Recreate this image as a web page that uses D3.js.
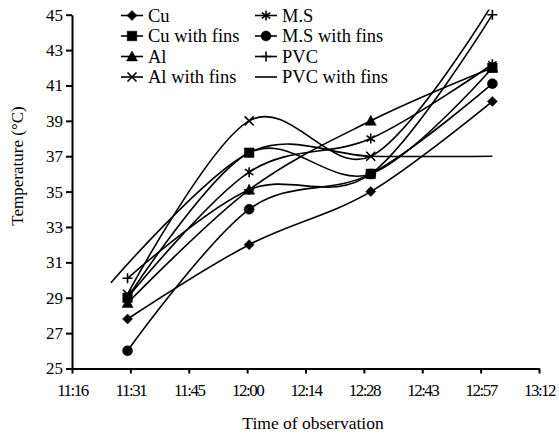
<!DOCTYPE html>
<html><head><meta charset="utf-8">
<script src="https://cdn.jsdelivr.net/npm/d3@7"></script>
<style>
body{margin:0;background:#fff}
text{font-family:"Liberation Serif","Times New Roman",serif;fill:#000}
</style>
</head><body>
<svg id="c" width="559" height="442"></svg>
<script>
// ---- data (time in minutes after midnight, temperature in °C) ----
const times = [690.5, 720.5, 750.5, 780.5];
const pvcFinsTimes = [686.4, 720.5, 750.5, 780.5];
const cu        = [27.8, 32.0, 35.0, 40.1];
const cuFins    = [29.0, 37.2, 36.0, 42.0];
const al        = [28.7, 35.1, 39.0, 42.0];
const alFins    = [29.2, 39.0, 37.0, 45.6];
const ms        = [29.0, 36.1, 38.0, 42.2];
const msFins    = [26.0, 34.0, 36.0, 41.1];
const pvc       = [30.1, 35.1, 36.0, 45.0];
const pvcFins   = [29.85, 37.2, 37.0, 37.0];
const seriesNames = ["Cu","Cu with fins","Al","Al with fins","M.S","M.S with fins","PVC","PVC with fins"];
const xTickDays = [0.47,0.48,0.49,0.50,0.51,0.52,0.53,0.54,0.55];
const xTickLabels = ["11:16","11:31","11:45","12:00","12:14","12:28","12:43","12:57","13:12"];
const yTicks = [25,27,29,31,33,35,37,39,41,43,45];

const series = [
  {name:seriesNames[0], t:times, v:cu, m:"diamond"},
  {name:seriesNames[1], t:times, v:cuFins, m:"square"},
  {name:seriesNames[2], t:times, v:al, m:"triangle"},
  {name:seriesNames[3], t:times, v:alFins, m:"x"},
  {name:seriesNames[4], t:times, v:ms, m:"star"},
  {name:seriesNames[5], t:times, v:msFins, m:"circle"},
  {name:seriesNames[6], t:times, v:pvc, m:"plus"},
  {name:seriesNames[7], t:pvcFinsTimes, v:pvcFins, m:"none"}
];

const svg = d3.select("#c");
const L = 72, R = 539, T = 14.7, B = 368.5;
const x = d3.scaleLinear().domain([0.47*1440, 0.55*1440]).range([L, R]);
const y = d3.scaleLinear().domain([25, 45]).range([B, T]);

// clip
svg.append("defs").append("clipPath").attr("id","plot")
  .append("rect").attr("x", L).attr("y", 9.5).attr("width", R - L + 10).attr("height", B - 9.5);

// axes
const xAxis = d3.axisBottom(x).tickValues(xTickDays.map(d => d*1440))
  .tickFormat((d,i) => xTickLabels[i]).tickSize(5).tickSizeOuter(0);
const gx = svg.append("g").attr("transform", `translate(0,${B})`).call(xAxis);
gx.select(".domain").attr("stroke","#000").attr("stroke-width",2);
gx.selectAll(".tick line").attr("stroke","#000").attr("stroke-width",2);
gx.selectAll(".tick text").attr("font-size", 17).attr("dy", "1.15em")
  .attr("letter-spacing","-1.5px").attr("font-family","Liberation Serif");

const yAxis = d3.axisLeft(y).tickValues(yTicks).tickSize(6).tickSizeOuter(0);
const gy = svg.append("g").attr("transform", `translate(${L},0)`).call(yAxis);
gy.select(".domain").attr("stroke","#000").attr("stroke-width",2);
gy.selectAll(".tick line").attr("stroke","#000").attr("stroke-width",2);
gy.selectAll(".tick text").attr("font-size", 17).attr("x", -9)
  .attr("font-family","Liberation Serif");

// axis titles
svg.append("text").attr("x", 313).attr("y", 429).attr("text-anchor","middle")
  .attr("font-size", 17.5).text("Time of observation");
svg.append("text").attr("transform","translate(23,166) rotate(-90)")
  .attr("text-anchor","middle").attr("font-size", 17).text("Temperature (°C)");

// markers
function markerPath(type) {
  const p = d3.path();
  if (type === "diamond") { const r=5; p.moveTo(0,-r); p.lineTo(r,0); p.lineTo(0,r); p.lineTo(-r,0); p.closePath(); }
  else if (type === "square") { const r=4.8; p.rect(-r,-r,2*r,2*r); }
  else if (type === "triangle") { const r=5.5; p.moveTo(0,-r); p.lineTo(r,r*0.8); p.lineTo(-r,r*0.8); p.closePath(); }
  else if (type === "circle") { p.arc(0,0,5,0,2*Math.PI); }
  else if (type === "x") { const r=4.5; p.moveTo(-r,-r); p.lineTo(r,r); p.moveTo(-r,r); p.lineTo(r,-r); }
  else if (type === "plus") { const r=5; p.moveTo(-r,0); p.lineTo(r,0); p.moveTo(0,-r); p.lineTo(0,r); }
  else if (type === "star") { const r=5, k=4.2; p.moveTo(0,-r); p.lineTo(0,r); p.moveTo(-k,-k*0.7); p.lineTo(k,k*0.7); p.moveTo(-k,k*0.7); p.lineTo(k,-k*0.7); }
  return p.toString();
}
const filled = t => ["diamond","square","triangle","circle"].includes(t);
function drawMarker(g, type, cx, cy) {
  if (type === "none") return;
  g.append("path").attr("d", markerPath(type)).attr("transform", `translate(${cx},${cy})`)
    .attr("fill", filled(type) ? "#000" : "none").attr("stroke","#000")
    .attr("stroke-width", filled(type) ? 0.5 : 1.6);
}

const plot = svg.append("g").attr("clip-path","url(#plot)");
const line = d3.line().x(d => x(d[0])).y(d => y(d[1])).curve(d3.curveCardinal.tension(0));
series.forEach(s => {
  const pts = s.t.map((t,i) => [t, s.v[i]]);
  plot.append("path").attr("d", line(pts)).attr("fill","none")
    .attr("stroke","#000").attr("stroke-width",1.6);
});
series.forEach(s => {
  s.t.forEach((t,i) => drawMarker(plot, s.m, x(t), y(s.v[i])));
});

// legend
const legX = [121, 255], legY = [21.5, 42, 62.5, 83];
series.forEach((s,i) => {
  const col = Math.floor(i/4), row = i%4;
  const g = svg.append("g");
  const lx = legX[col], ly = legY[row] - 6;
  g.append("line").attr("x1", lx).attr("x2", lx+22).attr("y1", ly).attr("y2", ly)
    .attr("stroke","#000").attr("stroke-width",1.6);
  drawMarker(g, s.m, lx+11, ly);
  g.append("text").attr("x", lx+27).attr("y", legY[row]).attr("font-size", 18.5).text(s.name);
});
</script>
</body></html>
